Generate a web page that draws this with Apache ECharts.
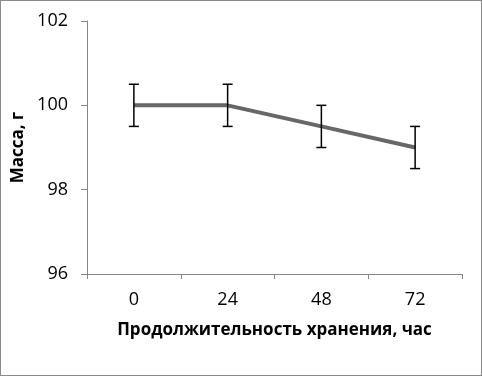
<!DOCTYPE html>
<html>
<head>
<meta charset="utf-8">
<script src="https://cdn.jsdelivr.net/npm/echarts@6/dist/echarts.min.js"></script>
<style>
  html, body { margin: 0; padding: 0; background: #fff; }
  #chart { width: 480px; height: 374px; border: 1px solid #8a8a8a; }
</style>
</head>
<body>
<div id="chart"></div>
<script>
const hours = ['0', '24', '48', '72'];
const massMean = [100, 100, 99.5, 99];
const massErr = [0.5, 0.5, 0.5, 0.5];
const yTicks = [96, 98, 100, 102];

const chart = echarts.init(document.getElementById('chart'), null, { renderer: 'canvas' });

const errData = hours.map((h, i) => [i, massMean[i] - massErr[i], massMean[i] + massErr[i]]);

chart.setOption({
  animation: false,
  backgroundColor: '#fff',
  grid: { left: 86, right: 19, top: 20, bottom: 101 },
  xAxis: {
    type: 'category',
    data: hours,
    boundaryGap: true,
    name: 'Продолжительность хранения, час',
    nameLocation: 'middle',
    nameGap: 48,
    nameTextStyle: { color: '#000', fontSize: 17, fontWeight: 'bold', fontFamily: 'Open Sans' },
    axisLine: { lineStyle: { color: '#868686', width: 1 } },
    axisTick: { show: true, length: 5, lineStyle: { color: '#868686' } },
    axisLabel: { color: '#000', fontSize: 18, margin: 17, fontFamily: 'Open Sans' },
  },
  yAxis: {
    type: 'value',
    min: yTicks[0],
    max: yTicks[yTicks.length - 1],
    interval: 2,
    name: 'Масса, г',
    nameLocation: 'middle',
    nameGap: 59,
    nameRotate: 90,
    nameTextStyle: { color: '#000', fontSize: 17, fontWeight: 'bold', fontFamily: 'Open Sans' },
    axisLine: { show: true, lineStyle: { color: '#868686', width: 1 } },
    axisTick: { show: true, length: 6, lineStyle: { color: '#868686' } },
    splitLine: { show: false },
    axisLabel: { color: '#000', fontSize: 18, margin: 19, fontFamily: 'Open Sans' },
  },
  series: [
    {
      name: 'Масса',
      type: 'line',
      data: massMean,
      symbol: 'none',
      lineStyle: { color: '#676767', width: 4 },
      z: 2,
    },
    {
      type: 'custom',
      data: errData,
      z: 3,
      renderItem: (params, api) => {
        const x = api.value(0);
        const lo = api.coord([x, api.value(1)]);
        const hi = api.coord([x, api.value(2)]);
        const cap = 5;
        const style = { stroke: '#000', lineWidth: 1.5 };
        return {
          type: 'group',
          children: [
            { type: 'line', shape: { x1: hi[0], y1: hi[1], x2: lo[0], y2: lo[1] }, style },
            { type: 'line', shape: { x1: hi[0] - cap, y1: hi[1], x2: hi[0] + cap, y2: hi[1] }, style },
            { type: 'line', shape: { x1: lo[0] - cap, y1: lo[1], x2: lo[0] + cap, y2: lo[1] }, style },
          ],
        };
      },
    },
  ],
});
</script>
</body>
</html>
